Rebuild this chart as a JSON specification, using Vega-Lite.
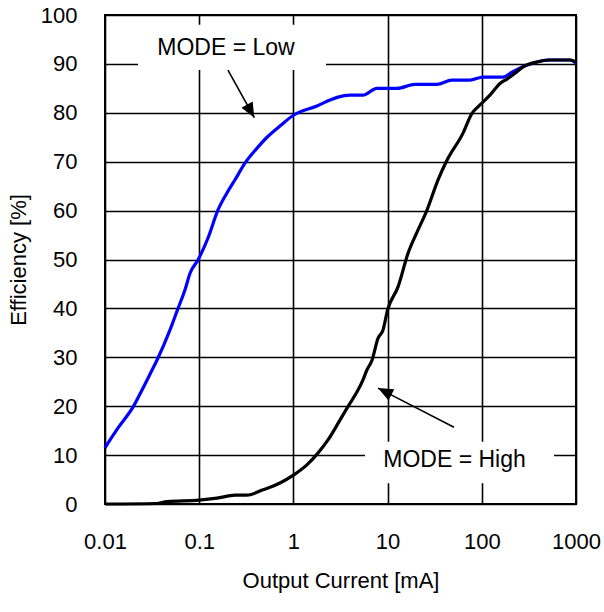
{
  "$schema": "https://vega.github.io/schema/vega-lite/v6.json",
  "width": 471,
  "height": 489,
  "autosize": {"type": "none"},
  "padding": {"left": 105, "top": 15, "right": 28, "bottom": 108},
  "background": "white",
  "config": {
    "font": "Liberation Sans",
    "view": {"stroke": "black", "strokeWidth": 2},
    "axis": {
      "grid": true,
      "gridColor": "black",
      "gridWidth": 1.6,
      "gridOpacity": 1,
      "domain": false,
      "ticks": false,
      "tickSize": 0,
      "labelFlush": false,
      "labelOverlap": false,
      "labelFont": "Liberation Sans",
      "labelFontSize": 22,
      "labelColor": "black",
      "titleFont": "Liberation Sans",
      "titleFontSize": 22,
      "titleFontWeight": "normal",
      "titleColor": "black"
    }
  },
  "datasets": {
    "curves": [
      {"current": 0.01, "eff": 11.5, "mode": "Low"},
      {"current": 0.0137, "eff": 15.5, "mode": "Low"},
      {"current": 0.0198, "eff": 19.8, "mode": "Low"},
      {"current": 0.0247, "eff": 23.3, "mode": "Low"},
      {"current": 0.0316, "eff": 27.4, "mode": "Low"},
      {"current": 0.0356, "eff": 29.4, "mode": "Low"},
      {"current": 0.049, "eff": 35.6, "mode": "Low"},
      {"current": 0.0596, "eff": 40.0, "mode": "Low"},
      {"current": 0.0707, "eff": 43.8, "mode": "Low"},
      {"current": 0.0799, "eff": 47.2, "mode": "Low"},
      {"current": 0.097, "eff": 49.9, "mode": "Low"},
      {"current": 0.124, "eff": 54.4, "mode": "Low"},
      {"current": 0.158, "eff": 60.1, "mode": "Low"},
      {"current": 0.197, "eff": 63.6, "mode": "Low"},
      {"current": 0.24, "eff": 66.3, "mode": "Low"},
      {"current": 0.306, "eff": 69.7, "mode": "Low"},
      {"current": 0.4, "eff": 72.5, "mode": "Low"},
      {"current": 0.525, "eff": 75.0, "mode": "Low"},
      {"current": 0.72, "eff": 77.3, "mode": "Low"},
      {"current": 1.0, "eff": 79.5, "mode": "Low"},
      {"current": 1.78, "eff": 81.4, "mode": "Low"},
      {"current": 2.45, "eff": 82.6, "mode": "Low"},
      {"current": 2.97, "eff": 83.2, "mode": "Low"},
      {"current": 4.0, "eff": 83.6, "mode": "Low"},
      {"current": 5.48, "eff": 83.6, "mode": "Low"},
      {"current": 7.7, "eff": 85.0, "mode": "Low"},
      {"current": 12.6, "eff": 85.0, "mode": "Low"},
      {"current": 19.5, "eff": 85.8, "mode": "Low"},
      {"current": 33.4, "eff": 85.8, "mode": "Low"},
      {"current": 48, "eff": 86.7, "mode": "Low"},
      {"current": 75, "eff": 86.7, "mode": "Low"},
      {"current": 103, "eff": 87.3, "mode": "Low"},
      {"current": 168, "eff": 87.3, "mode": "Low"},
      {"current": 209, "eff": 88.3, "mode": "Low"},
      {"current": 274, "eff": 89.4, "mode": "Low"},
      {"current": 385, "eff": 90.4, "mode": "Low"},
      {"current": 491, "eff": 90.8, "mode": "Low"},
      {"current": 863, "eff": 90.8, "mode": "Low"},
      {"current": 1000, "eff": 90.2, "mode": "Low"},
      {"current": 0.01, "eff": 0.0, "mode": "High"},
      {"current": 0.035, "eff": 0.1, "mode": "High"},
      {"current": 0.0455, "eff": 0.5, "mode": "High"},
      {"current": 0.1, "eff": 0.8, "mode": "High"},
      {"current": 0.154, "eff": 1.2, "mode": "High"},
      {"current": 0.24, "eff": 1.8, "mode": "High"},
      {"current": 0.32, "eff": 1.8, "mode": "High"},
      {"current": 0.475, "eff": 2.9, "mode": "High"},
      {"current": 0.72, "eff": 4.3, "mode": "High"},
      {"current": 1.0, "eff": 5.9, "mode": "High"},
      {"current": 1.39, "eff": 8.0, "mode": "High"},
      {"current": 1.82, "eff": 10.4, "mode": "High"},
      {"current": 2.33, "eff": 13.1, "mode": "High"},
      {"current": 3.13, "eff": 17.2, "mode": "High"},
      {"current": 3.71, "eff": 19.6, "mode": "High"},
      {"current": 5.48, "eff": 25.4, "mode": "High"},
      {"current": 6.03, "eff": 27.4, "mode": "High"},
      {"current": 6.83, "eff": 29.4, "mode": "High"},
      {"current": 7.91, "eff": 33.9, "mode": "High"},
      {"current": 8.94, "eff": 35.6, "mode": "High"},
      {"current": 10, "eff": 39.7, "mode": "High"},
      {"current": 12.9, "eff": 44.4, "mode": "High"},
      {"current": 16.5, "eff": 51.3, "mode": "High"},
      {"current": 21, "eff": 56.0, "mode": "High"},
      {"current": 26.2, "eff": 60.1, "mode": "High"},
      {"current": 34.3, "eff": 66.3, "mode": "High"},
      {"current": 42.7, "eff": 70.3, "mode": "High"},
      {"current": 63, "eff": 75.8, "mode": "High"},
      {"current": 78.7, "eff": 79.9, "mode": "High"},
      {"current": 91, "eff": 81.2, "mode": "High"},
      {"current": 122, "eff": 83.6, "mode": "High"},
      {"current": 156, "eff": 86.0, "mode": "High"},
      {"current": 185, "eff": 86.9, "mode": "High"},
      {"current": 225, "eff": 88.1, "mode": "High"},
      {"current": 274, "eff": 89.4, "mode": "High"},
      {"current": 385, "eff": 90.4, "mode": "High"},
      {"current": 530, "eff": 90.8, "mode": "High"},
      {"current": 863, "eff": 90.8, "mode": "High"},
      {"current": 1000, "eff": 90.4, "mode": "High"}
    ],
    "labels": [
      {"mode": "Low", "text": "MODE = Low", "tx": 0.1925, "ty": 91.8, "bx1": 0.0224, "bx2": 2.22, "by1": 88.75, "by2": 98.0, "ax1": 0.202, "ay1": 88.75, "ax2": 0.385, "ay2": 79.0},
      {"mode": "High", "text": "MODE = High", "tx": 51.3, "ty": 7.57, "bx1": 5.75, "bx2": 584, "by1": 4.23, "by2": 12.74, "ax1": 50.7, "ay1": 15.7, "ax2": 7.91, "ay2": 23.7}
    ]
  },
  "layer": [
    {
      "data": {"name": "labels"},
      "mark": {"type": "rect", "color": "white", "opacity": 1, "strokeWidth": 0},
      "encoding": {
        "x": {"field": "bx1", "type": "quantitative", "scale": {"type": "log", "domain": [0.01, 1000]},
          "axis": {"values": [0.01, 0.1, 1, 10, 100, 1000], "format": "~g", "labelPadding": 27, "title": "Output Current [mA]", "titlePadding": 18}},
        "x2": {"field": "bx2"},
        "y": {"field": "by1", "type": "quantitative", "scale": {"domain": [0, 100]},
          "axis": {"values": [0, 10, 20, 30, 40, 50, 60, 70, 80, 90, 100], "labelPadding": 28, "title": "Efficiency [%]", "titlePadding": 10}},
        "y2": {"field": "by2"}
      }
    },
    {
      "data": {"name": "curves"},
      "mark": {"type": "line", "strokeWidth": 3.2, "interpolate": "monotone"},
      "encoding": {
        "x": {"field": "current", "type": "quantitative"},
        "y": {"field": "eff", "type": "quantitative"},
        "color": {"field": "mode", "type": "nominal", "scale": {"domain": ["Low", "High"], "range": ["#0000ff", "#000000"]}, "legend": null},
        "order": {"field": "current", "type": "quantitative"}
      }
    },
    {
      "data": {"name": "labels"},
      "mark": {"type": "rule", "color": "black", "strokeWidth": 1.6},
      "encoding": {
        "x": {"field": "ax1", "type": "quantitative"},
        "y": {"field": "ay1", "type": "quantitative"},
        "x2": {"field": "ax2"},
        "y2": {"field": "ay2"}
      }
    },
    {
      "data": {"name": "labels"},
      "transform": [{"filter": "datum.mode == 'Low'"}],
      "mark": {"type": "point", "shape": "M0,0L-0.85,2L0.85,2Z", "filled": true, "color": "black", "opacity": 1, "size": 225, "angle": 151},
      "encoding": {
        "x": {"field": "ax2", "type": "quantitative"},
        "y": {"field": "ay2", "type": "quantitative"}
      }
    },
    {
      "data": {"name": "labels"},
      "transform": [{"filter": "datum.mode == 'High'"}],
      "mark": {"type": "point", "shape": "M0,0L-0.85,2L0.85,2Z", "filled": true, "color": "black", "opacity": 1, "size": 225, "angle": 297},
      "encoding": {
        "x": {"field": "ax2", "type": "quantitative"},
        "y": {"field": "ay2", "type": "quantitative"}
      }
    },
    {
      "data": {"name": "labels"},
      "mark": {"type": "text", "font": "Liberation Sans", "fontSize": 23, "color": "black", "align": "center", "baseline": "alphabetic"},
      "encoding": {
        "x": {"field": "tx", "type": "quantitative"},
        "y": {"field": "ty", "type": "quantitative"},
        "text": {"field": "text"}
      }
    }
  ]
}
